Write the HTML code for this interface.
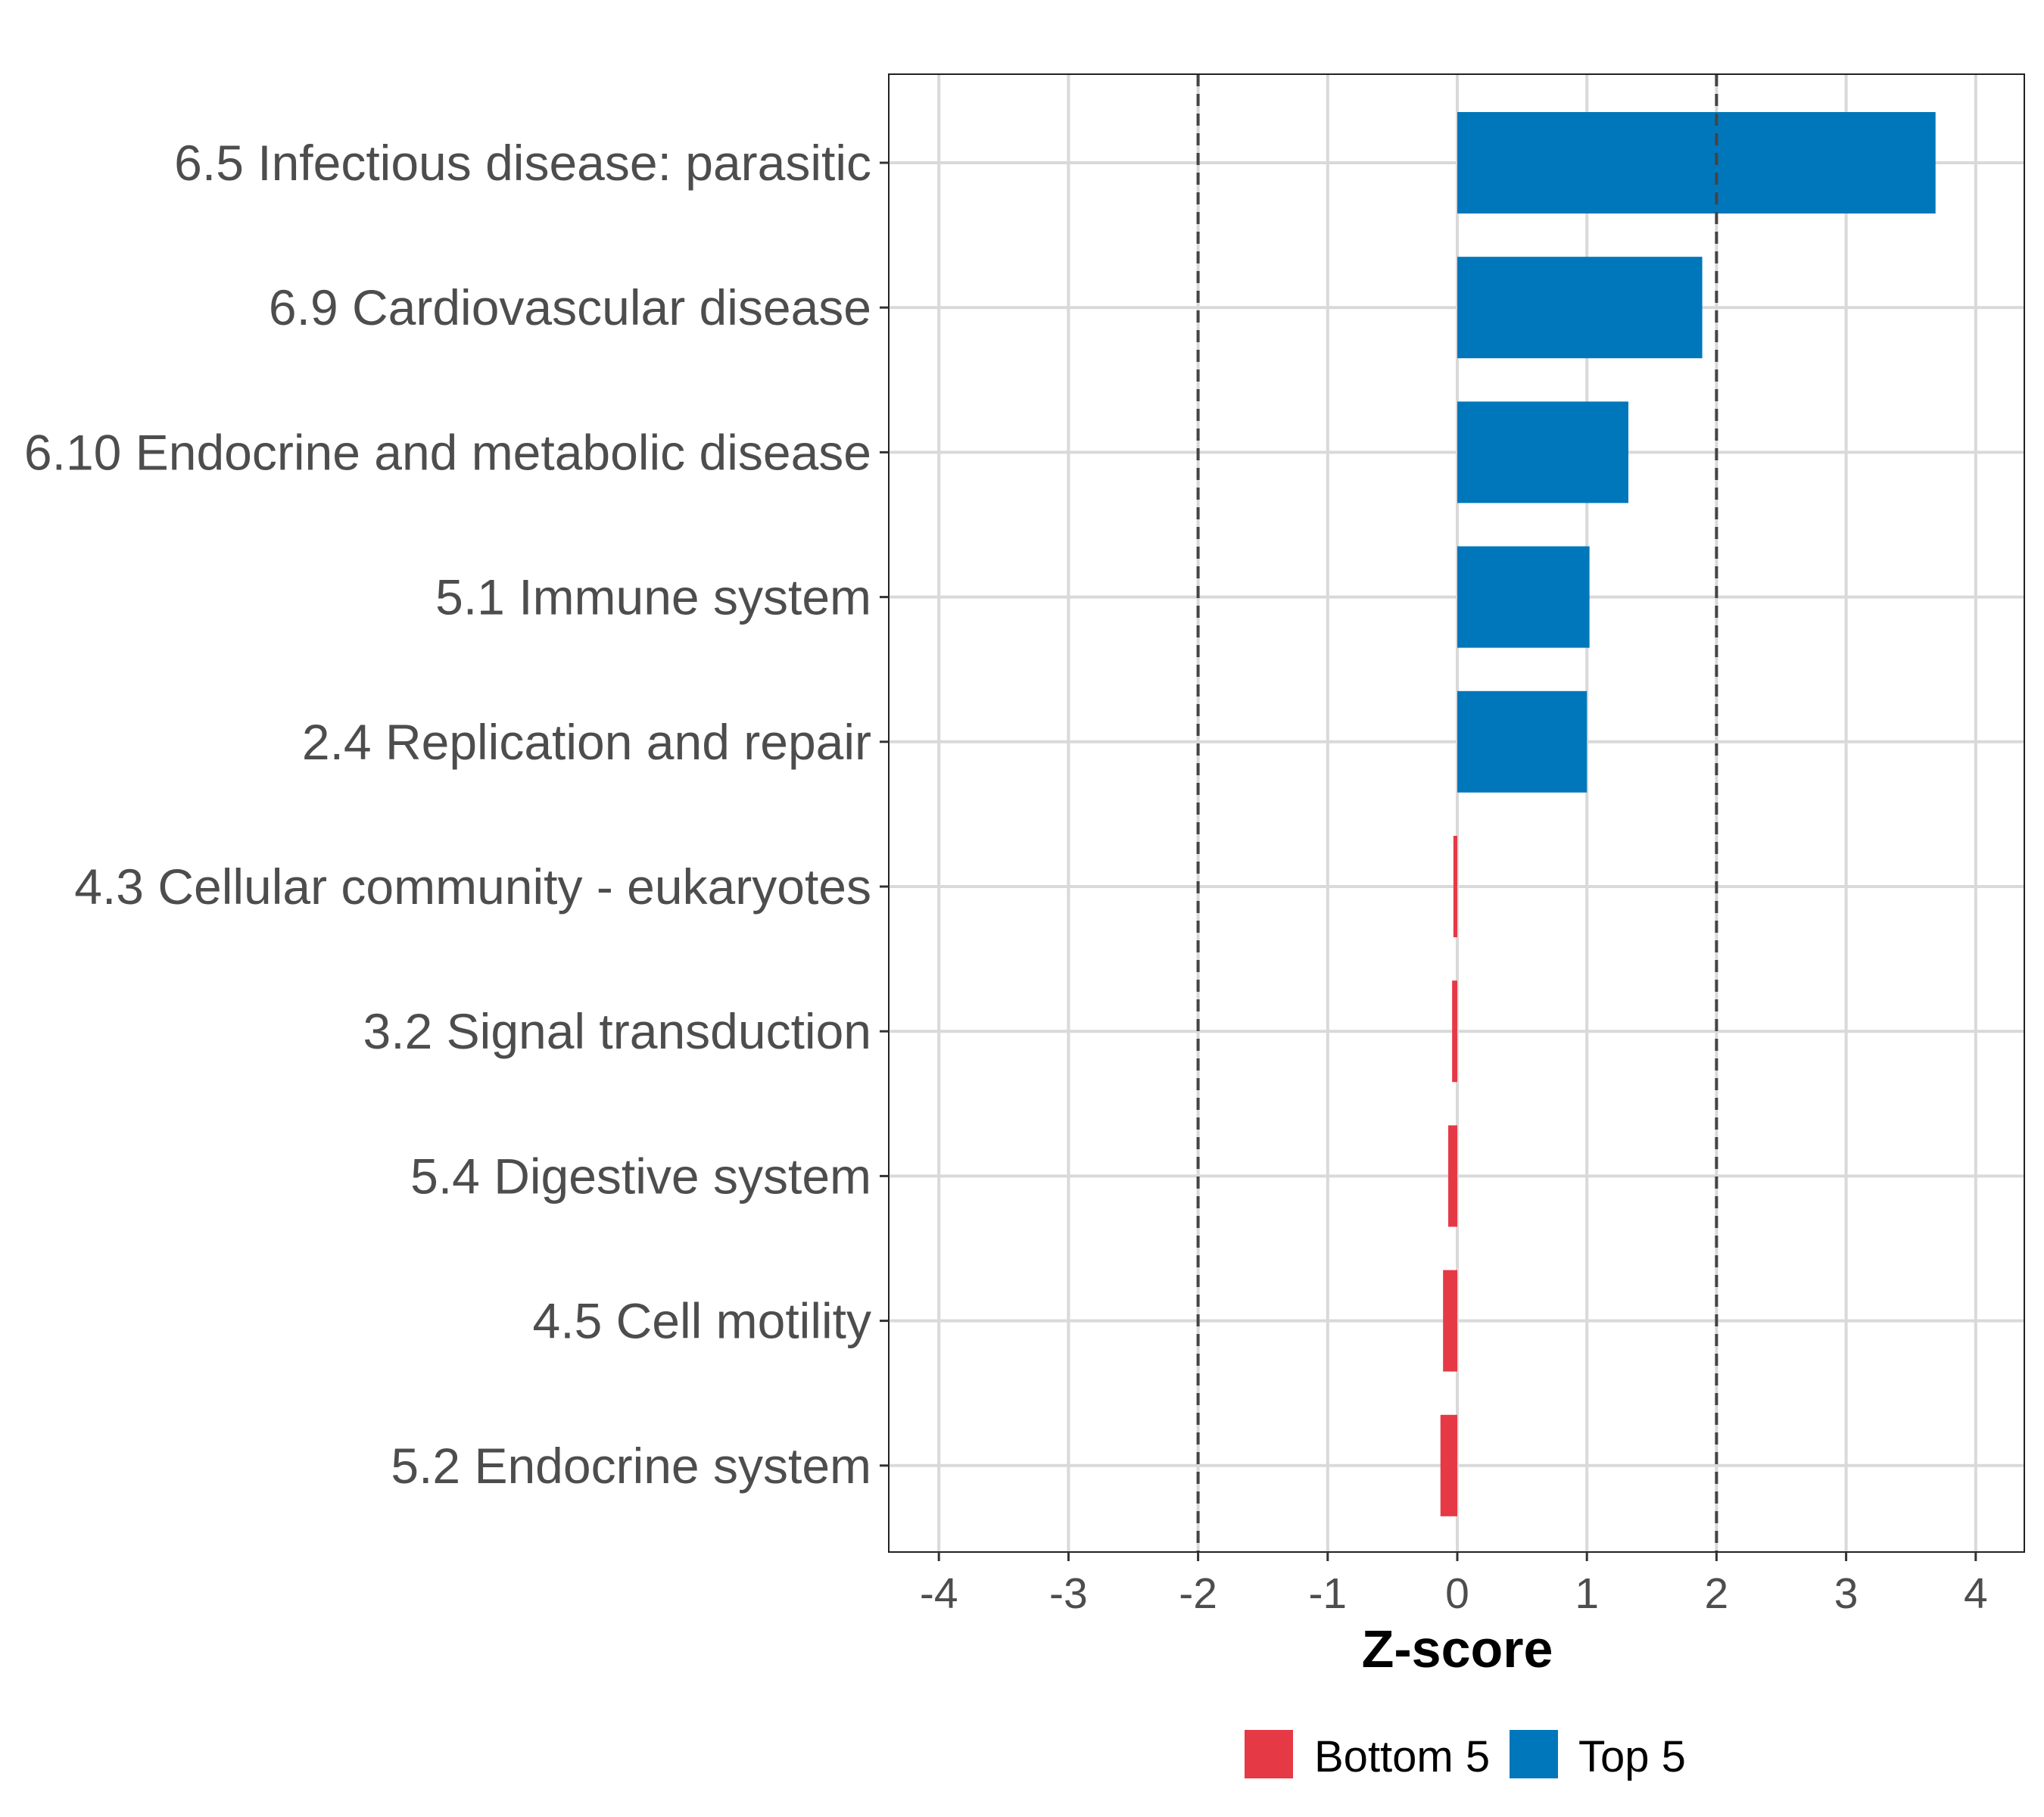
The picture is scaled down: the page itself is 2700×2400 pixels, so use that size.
<!DOCTYPE html>
<html><head><meta charset="utf-8"><style>body{margin:0;background:#fff}svg{display:block}</style></head>
<body>
<svg id="chart" width="2700" height="2400" xmlns="http://www.w3.org/2000/svg" font-family="Liberation Sans, sans-serif"></svg>
<script>
const categories = ["6.5 Infectious disease: parasitic","6.9 Cardiovascular disease","6.10 Endocrine and metabolic disease","5.1 Immune system","2.4 Replication and repair","4.3 Cellular community - eukaryotes","3.2 Signal transduction","5.4 Digestive system","4.5 Cell motility","5.2 Endocrine system"];
const zValues = [3.69, 1.89, 1.32, 1.02, 1.0, -0.03, -0.04, -0.07, -0.11, -0.13];
const groups = ["Top 5","Top 5","Top 5","Top 5","Top 5","Bottom 5","Bottom 5","Bottom 5","Bottom 5","Bottom 5"];
const xTicks = [-4,-3,-2,-1,0,1,2,3,4];
const thresholds = [-2, 2];

const NS="http://www.w3.org/2000/svg";
const svg=document.getElementById('chart');
const L=1174,R=2674,T=98,B=2050;
const x=v=>1925+v*171.2;
const rowStep=191.2;
const y=i=>215+i*rowStep;
const barH=134;
const colors={"Top 5":"#0077BB","Bottom 5":"#E63946"};
function mk(tag,attrs,parent){const e=document.createElementNS(NS,tag);for(const k in attrs)e.setAttribute(k,attrs[k]);(parent||svg).appendChild(e);return e;}

const bg=mk('rect',{x:L,y:T,width:R-L,height:B-T,fill:'#fff'});


xTicks.forEach(t=>{
  const g=mk('line',{x1:x(t),x2:x(t),y1:T,y2:B,stroke:'#d9d9d9','stroke-width':4});
  
  
});
categories.forEach((c,i)=>{
  const g=mk('line',{x1:L,x2:R,y1:y(i),y2:y(i),stroke:'#d9d9d9','stroke-width':4});
  
  
});
zValues.forEach((v,i)=>{
  const r=mk('rect',{x:Math.min(x(0),x(v)),y:y(i)-barH/2,width:Math.abs(x(v)-x(0)),height:barH,fill:colors[groups[i]]});
  
  
});
thresholds.forEach(t=>{
  const d=mk('line',{x1:x(t),x2:x(t),y1:T,y2:B,stroke:'#444','stroke-width':4,'stroke-dasharray':'16,10'});
  
  
});
const border=mk('rect',{x:L,y:T,width:R-L,height:B-T,fill:'none',stroke:'#222','stroke-width':2});


categories.forEach((c,i)=>{
  const tk=mk('line',{x1:L-12,x2:L,y1:y(i),y2:y(i),stroke:'#333','stroke-width':3});
  
  
  const t=mk('text',{x:1151,y:y(i)+23,'text-anchor':'end','font-size':66,fill:'#4d4d4d'});
  t.textContent=c;
  
  
});
xTicks.forEach(v=>{
  const tk=mk('line',{x1:x(v),x2:x(v),y1:B,y2:B+12,stroke:'#333','stroke-width':3});
  
  
  const t=mk('text',{x:x(v),y:2124,'text-anchor':'middle','font-size':57,fill:'#4d4d4d'});
  t.textContent=v;
  
  
});
const xt=mk('text',{x:x(0),y:2202,'text-anchor':'middle','font-size':70,'font-weight':'bold',fill:'#000'});
xt.textContent='Z-score';


[["Bottom 5",1644,1736],["Top 5",1994,2085]].forEach(([lab,kx,tx])=>{
  const k=mk('rect',{x:kx,y:2285,width:64,height:64,fill:colors[lab]});
  
  
  const t=mk('text',{x:tx,y:2340,'font-size':58,fill:'#000'});
  t.textContent=lab;
  
  
});
</script>
</body></html>
